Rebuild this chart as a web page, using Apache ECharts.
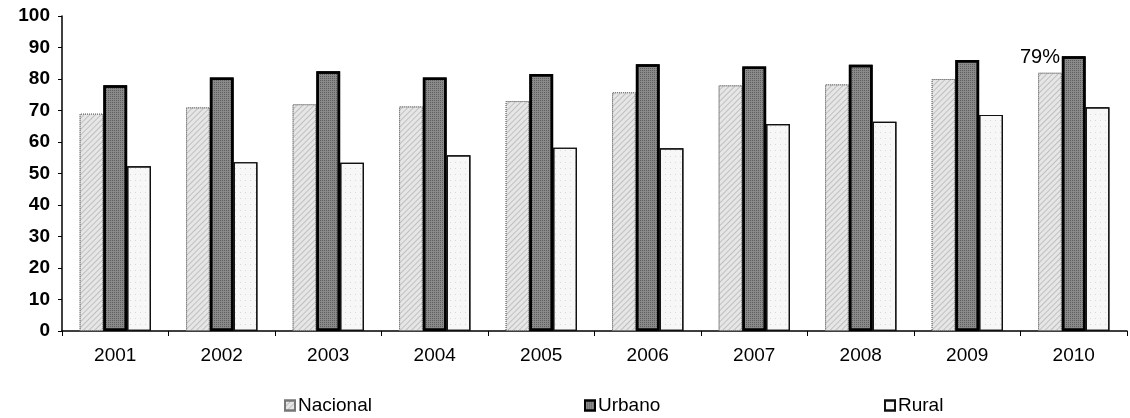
<!DOCTYPE html>
<html>
<head>
<meta charset="utf-8">
<script src="https://cdn.jsdelivr.net/npm/echarts@6/dist/echarts.min.js"></script>
<style>html,body{margin:0;padding:0;background:#fff}#c{width:1130px;height:418px}</style>
</head>
<body>
<div id="c"></div>
<script>
const categories = ['2001','2002','2003','2004','2005','2006','2007','2008','2009','2010'];
const nacional = [69, 71, 72, 71.3, 73, 75.8, 78, 78.3, 80, 82];
const urbano   = [78, 80.5, 82.5, 80.5, 81.6, 84.7, 84, 84.5, 86, 87.2];
const rural    = [52.3, 53.6, 53.4, 55.8, 58.2, 58, 65.7, 66.4, 68.6, 71];
const yTicks = { min: 0, max: 100, interval: 10 };
const seriesNames = ['Nacional', 'Urbano', 'Rural'];

const chart = echarts.init(document.getElementById('c'));
const font = 'Liberation Sans, Arial, sans-serif';
const legendBase = {
  top: 391, padding: 5, itemWidth: 10, itemHeight: 10, itemGap: 4,
  textStyle: { fontFamily: font, fontSize: 19, color: '#000', padding: [0,0,0,-2] },
  icon: 'rect', selectedMode: false
};
chart.setOption({
  animation: false,
  grid: { left: 62, right: 3, top: 16, bottom: 87 },
  xAxis: {
    type: 'category', data: categories,
    axisLine: { lineStyle: { color: '#000', width: 1.5 } },
    axisTick: { show: true, length: 5, lineStyle: { color: '#000' } },
    axisLabel: { fontFamily: font, fontSize: 19, color: '#000', margin: 15 }
  },
  yAxis: {
    type: 'value', min: yTicks.min, max: yTicks.max, interval: yTicks.interval,
    splitLine: { show: false },
    axisLine: { show: true, lineStyle: { color: '#000', width: 1.5 } },
    axisTick: { show: true, length: 4, lineStyle: { color: '#000' } },
    axisLabel: { fontFamily: font, fontSize: 19, fontWeight: 'bold', color: '#000', margin: 12 }
  },
  legend: [
    Object.assign({}, legendBase, { data: [seriesNames[0]], left: 279 }),
    Object.assign({}, legendBase, { data: [seriesNames[1]], left: 579 }),
    Object.assign({}, legendBase, { data: [seriesNames[2]], left: 879 })
  ],
  series: [
    {
      name: seriesNames[0], type: 'bar', data: nacional,
      barGap: '0%', barCategoryGap: '33%',
      itemStyle: {
        color: '#e6e6e6', borderColor: '#777', borderWidth: 1, borderType: 'dotted',
        decal: { symbol: 'rect', color: 'rgba(120,120,120,0.35)', dashArrayX: [1, 0], dashArrayY: [1, 3], rotation: -Math.PI / 4 }
      },
      label: {
        show: true, position: 'top', offset: [-10, 0],
        fontFamily: font, fontSize: 20, color: '#000',
        formatter: p => p.dataIndex === categories.length - 1 ? '79%' : ''
      }
    },
    {
      name: seriesNames[1], type: 'bar', data: urbano,
      itemStyle: {
        color: '#8a8a8a', borderColor: '#000', borderWidth: 2.5,
        decal: { symbol: 'rect', color: 'rgba(40,40,40,0.45)', dashArrayX: [1, 1], dashArrayY: [1, 1], symbolSize: 1 }
      }
    },
    {
      name: seriesNames[2], type: 'bar', data: rural,
      itemStyle: {
        color: '#f7f7f7', borderColor: '#111', borderWidth: 1.2,
        decal: { symbol: 'rect', color: 'rgba(150,150,150,0.3)', dashArrayX: [1, 4], dashArrayY: [1, 5], symbolSize: 1 }
      }
    }
  ]
});
</script>
</body>
</html>
